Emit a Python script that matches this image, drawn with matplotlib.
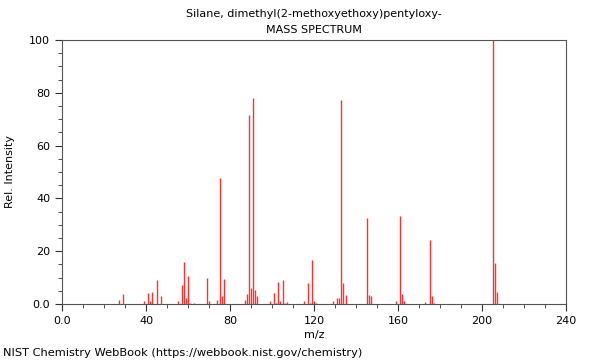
import matplotlib
matplotlib.use('Agg')
import matplotlib.pyplot as plt
from matplotlib.ticker import MultipleLocator, FixedLocator, FixedFormatter

title = 'Silane, dimethyl(2-methoxyethoxy)pentyloxy-'
subtitle = 'MASS SPECTRUM'
footer = 'NIST Chemistry WebBook (https://webbook.nist.gov/chemistry)'

# m/z and relative intensity
mz = [27, 29, 39, 41, 42, 43, 45, 47, 55, 57, 58, 59, 60, 61, 63,
      69, 70, 74, 75, 76, 77, 87, 88, 89, 90, 91, 92, 93,
      99, 101, 102, 103, 104, 105, 106, 107,
      115, 117, 118, 119, 120, 121, 129, 131, 132, 133, 134, 135,
      145, 146, 147, 159, 161, 162, 163, 173, 175, 176, 177,
      205, 206, 207]
intensity = [1.7, 3.9, 1.3, 4.1, 1.3, 4.6, 9.2, 3.2, 1.2, 7.2, 15.8, 2.4, 10.6, 0.5, 0.5,
             10.0, 1.0, 1.4, 47.9, 3.2, 9.3, 1.4, 3.9, 71.5, 6.2, 78.0, 5.2, 3.2,
             1.0, 4.0, 0.5, 8.5, 1.0, 9.0, 0.5, 0.9,
             1.0, 7.8, 0.5, 16.8, 1.3, 0.5, 1.0, 2.3, 2.3, 77.3, 8.0, 3.4,
             32.5, 3.4, 3.1, 1.3, 33.4, 3.9, 1.0, 0.9, 24.4, 3.2, 0.5,
             100.0, 15.5, 4.6]

x_ticks = [0, 40, 80, 120, 160, 200, 240]
x_labels = ['0.0', '40', '80', '120', '160', '200', '240']
y_ticks = [0, 20, 40, 60, 80, 100]
y_labels = ['0.0', '20', '40', '60', '80', '100']

fig = plt.figure(figsize=(6, 3.6), dpi=100)
ax = fig.add_axes([62/600, 1 - 304/360, 504/600, 264/360])

ax.vlines(mz, 0, intensity, colors='#ff3030', linewidth=1.0)

ax.set_xlim(0, 240)
ax.set_ylim(0, 100)
ax.xaxis.set_major_locator(FixedLocator(x_ticks))
ax.xaxis.set_major_formatter(FixedFormatter(x_labels))
ax.yaxis.set_major_locator(FixedLocator(y_ticks))
ax.yaxis.set_major_formatter(FixedFormatter(y_labels))
ax.xaxis.set_minor_locator(MultipleLocator(10))
ax.yaxis.set_minor_locator(MultipleLocator(5))
ax.tick_params(which='major', length=5, width=0.8, labelsize=8, colors='#333333', labelcolor='black')
ax.tick_params(which='minor', length=3, width=0.6, colors='#333333')
for s in ax.spines.values():
    s.set_color('#555555')
    s.set_linewidth(0.8)

ax.set_xlabel('m/z', fontsize=8, labelpad=3)
ax.set_ylabel('Rel. Intensity', fontsize=8, labelpad=10)

fig.text(314/600, 1 - 14/360, title, ha='center', va='center', fontsize=8)
fig.text(314/600, 1 - 30/360, subtitle, ha='center', va='center', fontsize=8)
fig.text(3/600, 1 - 353/360, footer, ha='left', va='center', fontsize=8.2)

fig.savefig('out.png', dpi=100)
